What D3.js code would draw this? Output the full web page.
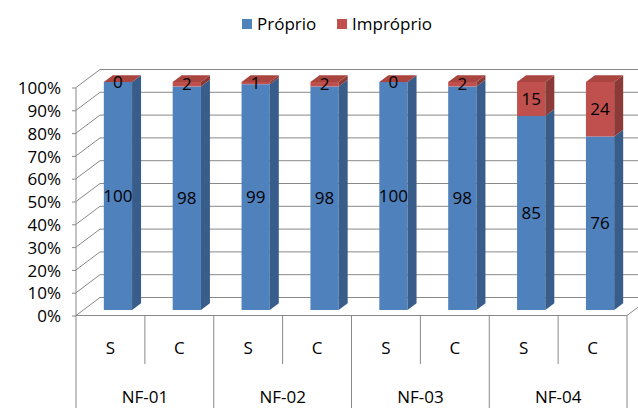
<!DOCTYPE html>
<html>
<head>
<meta charset="utf-8">
<script src="https://cdn.jsdelivr.net/npm/d3@7"></script>
<style>
  html, body { margin: 0; padding: 0; background: #fff; }
  svg { display: block; font-family: "Open Sans", "Noto Sans", sans-serif; }
</style>
</head>
<body>
<svg id="chart" width="638" height="408"></svg>
<script>
// Categories: each NF group has an S and a C column
const groups = ["NF-01", "NF-02", "NF-03", "NF-04"];
const subLabels = ["S", "C"];
// Percent values per column, in order NF-01 S, NF-01 C, NF-02 S, ...
const proprio   = [100, 98, 99, 98, 100, 98, 85, 76];
const improprio = [0, 2, 1, 2, 0, 2, 15, 24];
const seriesNames = ["Próprio", "Impróprio"];
const yTicks = [0, 10, 20, 30, 40, 50, 60, 70, 80, 90, 100];

const colors = {
  "Próprio":   { front: "#4F81BD", side: "#385D8A", top: "#5B8CC6" },
  "Impróprio": { front: "#C0504D", side: "#8C3A38", top: "#A9443F" }
};

const svg = d3.select("#chart");
const W = 638, H = 408;

// Front plane of the plot and the oblique depth offset of the back wall
const x0 = 76, x1 = 627;
const yFront0 = 315.5, yFront100 = 87.5;
const DX = 24, DY = 18;
const gridColor = "#898989";

const columns = [];
groups.forEach((g, gi) => subLabels.forEach((s, si) => {
  const i = gi * subLabels.length + si;
  columns.push({ key: g + "|" + s, group: g, sub: s, values: [proprio[i], improprio[i]] });
}));

const x = d3.scaleBand().domain(columns.map(d => d.key)).range([x0, x1]).paddingInner(0).paddingOuter(0);
const y = d3.scaleLinear().domain([0, 100]).range([yFront0, yFront100]);

// project (screen x on front plane, value, depth 0..1) to screen coordinates
const proj = (px, v, z) => [px + z * DX, y(v) - z * DY];

// ---- walls: gridlines (left wall diagonals + back wall horizontals)
const grid = svg.append("g").attr("stroke", gridColor).attr("stroke-width", 1).attr("fill", "none");
yTicks.forEach(t => {
  const a = proj(x0, t, 0), b = proj(x0, t, 1), c = proj(x1, t, 1);
  grid.append("path").attr("d", `M${a[0]},${a[1]}L${b[0]},${b[1]}L${c[0]},${c[1]}`);
});
// floor right edge
{
  const a = proj(x1, 0, 0), b = proj(x1, 0, 1);
  grid.append("line").attr("x1", a[0]).attr("y1", a[1]).attr("x2", b[0]).attr("y2", b[1]);
}
// floor front edge
grid.append("line").attr("x1", x0).attr("y1", yFront0).attr("x2", x1).attr("y2", yFront0);

// ---- value axis
const yAxis = d3.axisLeft(y).tickValues(yTicks).tickFormat(d => d + "%").tickSize(4).tickPadding(11);
const ya = svg.append("g").attr("transform", `translate(${x0},0)`).call(yAxis);
ya.select(".domain").remove();
ya.selectAll(".tick line").attr("stroke", gridColor);
ya.selectAll(".tick text").attr("font-size", 17).attr("fill", "#000").attr("font-family", "Open Sans, sans-serif").attr("dy", "0.36em");
// left axis line runs down through the category table
svg.append("line").attr("x1", x0).attr("x2", x0).attr("y1", yFront100).attr("y2", H)
  .attr("stroke", gridColor);

// ---- category axis (two levels)
const cat = svg.append("g").attr("stroke", gridColor);
columns.forEach((c, i) => {
  const xr = x(c.key) + x.bandwidth();
  const isGroupEnd = (i + 1) % subLabels.length === 0;
  cat.append("line").attr("x1", xr).attr("x2", xr).attr("y1", yFront0)
    .attr("y2", isGroupEnd ? H : 364);
});
svg.append("g").selectAll("text").data(columns).join("text")
  .attr("x", d => x(d.key) + x.bandwidth() / 2)
  .attr("y", 348).attr("dy", "0.36em")
  .attr("text-anchor", "middle").attr("font-size", 17).attr("fill", "#000")
  .text(d => d.sub);
svg.append("g").selectAll("text").data(groups).join("text")
  .attr("x", g => (x(g + "|" + subLabels[0]) + x(g + "|" + subLabels[subLabels.length - 1]) + x.bandwidth()) / 2)
  .attr("y", 396.5).attr("dy", "0.36em")
  .attr("text-anchor", "middle").attr("font-size", 17).attr("fill", "#000")
  .text(g => g);

// ---- 3D stacked columns
const barFrac = 0.41;      // front face width as a share of the band
const zA = 0.3125, zB = 0.6875; // column depth span
const bars = svg.append("g");
const labels = [];
columns.forEach(c => {
  const bw = x.bandwidth() * barFrac;
  const left = x(c.key) + (x.bandwidth() - bw) / 2;
  const right = left + bw;
  let base = 0;
  c.values.forEach((v, si) => {
    const name = seriesNames[si];
    const col = colors[name];
    const lo = base, hi = base + v;
    const isTop = si === c.values.length - 1;
    const fBL = proj(left, lo, zA), fTR = proj(right, hi, zA);
    const fBR = proj(right, lo, zA), fTL = proj(left, hi, zA);
    const bBR = proj(right, lo, zB), bTR = proj(right, hi, zB), bTL = proj(left, hi, zB);
    // front face
    bars.append("path").attr("fill", col.front)
      .attr("d", `M${fBL}L${fBR}L${fTR}L${fTL}Z`);
    // right side face
    bars.append("path").attr("fill", col.side)
      .attr("d", `M${fBR}L${bBR}L${bTR}L${fTR}Z`);
    // top face only on the uppermost segment
    if (isTop) {
      bars.append("path").attr("fill", col.top)
        .attr("d", `M${fTL}L${fTR}L${bTR}L${bTL}Z`);
    }
    labels.push({ x: (left + right) / 2 + zA * DX, y: y((lo + hi) / 2) - zA * DY, text: v });
    base = hi;
  });
});
svg.append("g").selectAll("text").data(labels).join("text")
  .attr("x", d => d.x).attr("y", d => d.y).attr("dy", "0.36em")
  .attr("text-anchor", "middle").attr("font-size", 17).attr("fill", "#000")
  .text(d => d.text);

// ---- legend
const legend = svg.append("g");
const legendItems = [
  { name: seriesNames[0], sx: 242, tx: 257 },
  { name: seriesNames[1], sx: 337, tx: 352 }
];
legendItems.forEach(it => {
  legend.append("rect").attr("x", it.sx).attr("y", 19).attr("width", 10).attr("height", 10)
    .attr("fill", colors[it.name].front);
  legend.append("text").attr("x", it.tx).attr("y", 29.5).attr("font-size", 17).attr("fill", "#000")
    .text(it.name);
});
</script>
</body>
</html>
